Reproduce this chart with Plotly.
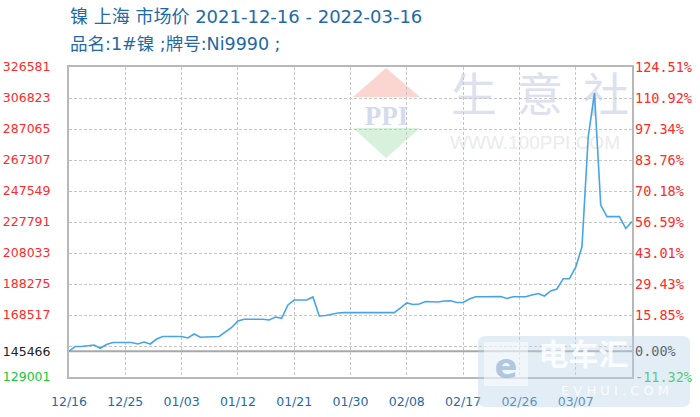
import pandas as pd
import plotly.graph_objects as go

# ---------------- data ----------------
START_DATE = "2021-12-16"
END_DATE = "2022-03-16"
dates = pd.date_range(START_DATE, END_DATE, freq="D")

prices = [
    145466, 148450, 148450, 149100, 149400, 147300, 149700, 151000, 151000, 151000,
    151000, 150040, 151310, 150040, 153220, 154800, 154800, 154800, 154800, 153860,
    156400, 154300, 154700, 154700, 154800, 157700, 160550, 164700, 165850, 165850,
    165850, 165850, 165330, 167250, 166400, 174900, 178080, 178080, 178080, 180000,
    167880, 168200, 169160, 169800, 170000, 170000, 170000, 170000, 170000, 170000,
    170000, 170000, 170000, 173000, 176170, 175200, 175530, 177120, 176800, 176800,
    177440, 177630, 176490, 176490, 178720, 180180, 180180, 180180, 180180, 180300,
    179040, 180180, 180180, 180180, 181270, 182230, 180630, 183820, 185090, 191660,
    191660, 199000, 212000, 282000, 310000, 238600, 231200, 231200, 231200, 223700,
    228100,
]

BASE_PRICE = 145466
Y_MIN, Y_MAX = 129001, 326581

left_tick_vals = [326581, 306823, 287065, 267307, 247549, 227791, 208033,
                  188275, 168517, 145466, 129001]
left_tick_labels = ["326581", "306823", "287065", "267307", "247549", "227791",
                    "208033", "188275", "168517", "145466", "129001"]
right_tick_labels = ["124.51%", "110.92%", "97.34%", "83.76%", "70.18%", "56.59%",
                     "43.01%", "29.43%", "15.85%", "0.00%", "-11.32%"]
grid_vals = [148759, 168517, 188275, 208033, 227791, 247549, 267307, 287065, 306823]

x_tick_dates = ["2021-12-16", "2021-12-25", "2022-01-03", "2022-01-12", "2022-01-21",
                "2022-01-30", "2022-02-08", "2022-02-17", "2022-02-26", "2022-03-07"]
x_tick_labels = ["12/16", "12/25", "01/03", "01/12", "01/21",
                 "01/30", "02/08", "02/17", "02/26", "03/07"]

TITLE_1 = "镍 上海 市场价 2021-12-16 - 2022-03-16"
TITLE_2 = "品名:1#镍 ;牌号:Ni9990 ;"

# ---------------- styles ----------------
RED = "#ff2a2a"
GREEN = "#14c83a"
BLACK = "#222222"
BLUE_TXT = "#1f6aa5"
LINE_BLUE = "#47a5e6"
GRID = "#c6c6c6"
FRAME = "#b8b8b8"
TITLE_FONT = "DejaVu Sans, Noto Sans CJK SC"


def colored(labels, vals):
    out = []
    for lab, v in zip(labels, vals):
        if v == BASE_PRICE:
            out.append(f"<span style='color:{BLACK}'>{lab}</span>")
        elif v < BASE_PRICE:
            out.append(f"<span style='color:{GREEN}'>{lab}</span>")
        else:
            out.append(lab)
    return out


fig = go.Figure()
fig.add_trace(go.Scatter(x=dates, y=prices, mode="lines",
                         line=dict(color=LINE_BLUE, width=1.6),
                         hoverinfo="x+y"))
fig.add_trace(go.Scatter(x=dates, y=prices, mode="lines", yaxis="y2",
                         line=dict(color=LINE_BLUE, width=0), opacity=0,
                         hoverinfo="skip"))

# plot area in pixels (for decoration placement)
PL, PR, PT, PB = 69, 632, 67, 377


def px(x):
    return (x - PL) / (PR - PL)


def py(y):
    return (PB - y) / (PB - PT)


shapes = []
# base price line
shapes.append(dict(type="line", xref="paper", x0=0, x1=1, yref="y",
                   y0=BASE_PRICE, y1=BASE_PRICE,
                   line=dict(color="#a8a8a8", width=2), layer="between"))

# 100ppi watermark (decoration)
shapes.append(dict(type="path", xref="paper", yref="paper",
                   path=f"M {px(353)},{py(97)} L {px(386)},{py(68)} L {px(420)},{py(97)} Z",
                   fillcolor="#fbd6d1", line=dict(width=0), layer="below"))
shapes.append(dict(type="path", xref="paper", yref="paper",
                   path=f"M {px(353)},{py(128)} L {px(420)},{py(128)} L {px(386)},{py(158)} Z",
                   fillcolor="#d8f1dc", line=dict(width=0), layer="below"))


def label_box(x0, y0, x1, y1, text, size, color, family, layer="below"):
    return dict(type="rect", xref="paper", yref="paper",
                x0=px(x0), x1=px(x1), y0=py(y1), y1=py(y0),
                line=dict(width=0), fillcolor="rgba(0,0,0,0)", layer=layer,
                label=dict(text=text, textposition="middle center",
                           font=dict(size=size, color=color, family=family)))


shapes.append(label_box(352, 100, 421, 126, "<b>PPI</b>", 27, "#d3dcee",
                        "Liberation Serif"))
shapes.append(label_box(450, 72, 498, 124, "生", 46, "#dde1ee", "Noto Sans CJK SC"))
shapes.append(label_box(516, 72, 564, 124, "意", 46, "#dde1ee", "Noto Sans CJK SC"))
shapes.append(label_box(582, 72, 630, 124, "社", 46, "#dde1ee", "Noto Sans CJK SC"))
shapes.append(label_box(450, 130, 620, 150, "WWW.100PPI.COM", 19, "#ebebeb",
                        "Liberation Sans"))

# EVHUI watermark (decoration, above)
shapes.append(dict(type="path", xref="paper", yref="paper",
                   path=(f"M {px(486)},{py(336)} L {px(682)},{py(336)} "
                         f"Q {px(690)},{py(336)} {px(690)},{py(344)} "
                         f"L {px(690)},{py(399)} Q {px(690)},{py(407)} {px(682)},{py(407)} "
                         f"L {px(486)},{py(407)} Q {px(478)},{py(407)} {px(478)},{py(399)} "
                         f"L {px(478)},{py(344)} Q {px(478)},{py(336)} {px(486)},{py(336)} Z"),
                   fillcolor="rgba(186,210,232,0.40)", line=dict(width=0),
                   layer="above"))
shapes.append(dict(type="rect", xref="paper", yref="paper",
                   x0=px(484), x1=px(528), y0=py(386), y1=py(342),
                   fillcolor="rgba(255,255,255,0.5)", line=dict(width=0),
                   layer="above"))
shapes.append(label_box(484, 342, 528, 386, "<b>e</b>", 34, "rgba(120,160,200,0.55)",
                        "DejaVu Sans", layer="above"))
shapes.append(label_box(535, 338, 632, 376, "<b>电车汇</b>", 30,
                        "rgba(255,255,255,0.85)", "Noto Sans CJK SC", layer="above"))
shapes.append(label_box(540, 380, 690, 398, "E V H U I . C O M", 13,
                        "rgba(255,255,255,0.85)", "DejaVu Sans", layer="above"))

annotations = [
    dict(text=TITLE_1, xref="paper", yref="paper", x=px(68), y=py(17),
         xanchor="left", yanchor="middle", showarrow=False,
         font=dict(family=TITLE_FONT, size=18, color=BLUE_TXT)),
    dict(text=TITLE_2, xref="paper", yref="paper", x=px(68), y=py(44),
         xanchor="left", yanchor="middle", showarrow=False,
         font=dict(family=TITLE_FONT, size=17.5, color=BLUE_TXT)),
]

fig.update_layout(
    width=700, height=417,
    margin=dict(l=PL, r=700 - PR, t=PT, b=417 - PB, autoexpand=False),
    paper_bgcolor="white", plot_bgcolor="white",
    showlegend=False,
    shapes=shapes,
    annotations=annotations,
    xaxis=dict(
        type="date", range=[START_DATE, END_DATE], automargin=False,
        tickmode="array", tickvals=x_tick_dates, ticktext=x_tick_labels,
        showgrid=True, gridcolor=GRID, gridwidth=1, griddash="3px,2px",
        showline=True, mirror=True, linecolor=FRAME, linewidth=2,
        ticks="", zeroline=False, ticklabelstandoff=12,
        tickfont=dict(family="DejaVu Sans", size=12.5, color=BLUE_TXT),
    ),
    yaxis=dict(
        range=[Y_MIN, Y_MAX], automargin=False,
        tickmode="array", tickvals=left_tick_vals,
        ticktext=colored(left_tick_labels, left_tick_vals),
        showgrid=False, zeroline=False,
        minor=dict(tickmode="array", tickvals=grid_vals, showgrid=True,
                   gridcolor=GRID, gridwidth=1, griddash="3px,2px", ticks=""),
        showline=True, mirror=True, linecolor=FRAME, linewidth=2,
        ticks="", ticklabelstandoff=14,
        tickfont=dict(family="DejaVu Sans", size=12.5, color=RED),
    ),
    yaxis2=dict(
        overlaying="y", side="right", range=[Y_MIN, Y_MAX], automargin=False,
        tickmode="array", tickvals=left_tick_vals,
        ticktext=colored(right_tick_labels, left_tick_vals),
        showgrid=False, zeroline=False, showline=False, ticks="",
        ticklabelstandoff=2,
        tickfont=dict(family="DejaVu Sans Mono", size=13.5, color=RED),
    ),
)

fig.write_html("out.html",
               config={"displayModeBar": False},
               post_script="document.body.style.margin='0';"
                           "document.body.style.padding='0';")
